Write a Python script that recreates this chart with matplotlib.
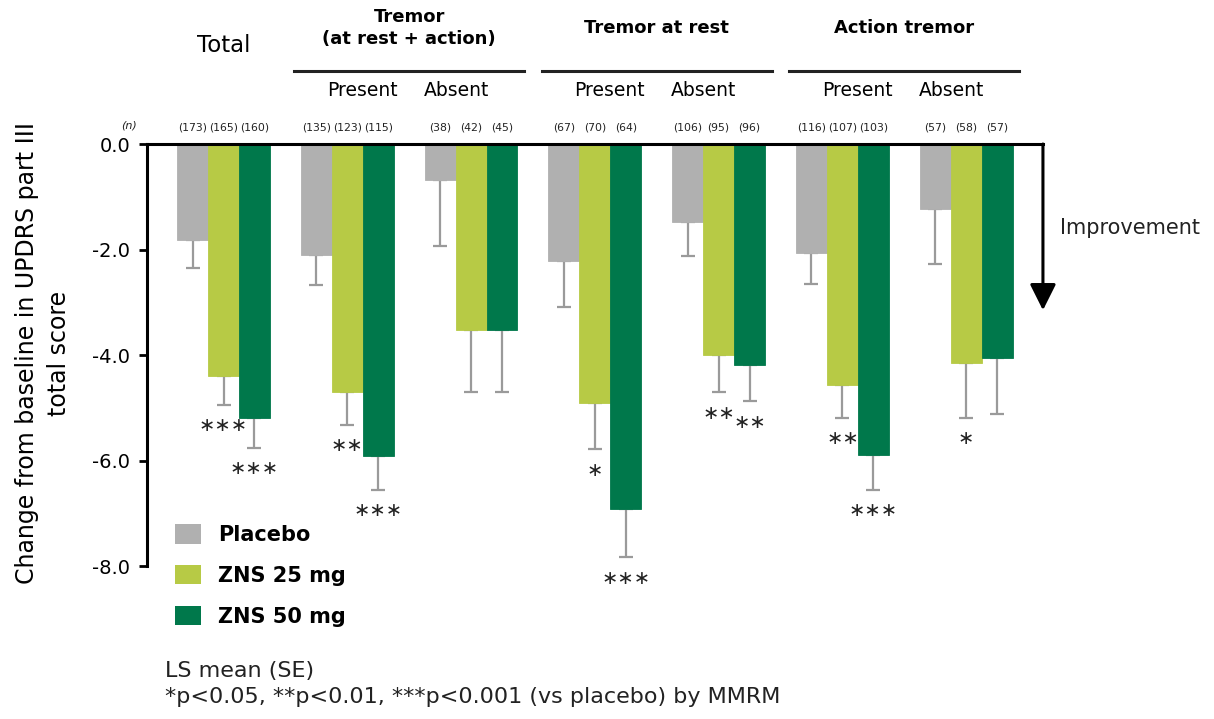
import numpy as np
import matplotlib as mpl
import matplotlib.pyplot as plt
from matplotlib.patches import Patch

mpl.use('Agg')
plt.rcParams['font.family'] = 'DejaVu Sans'
plt.rcParams['axes.unicode_minus'] = False

groups = ["Total", "Tremor Present", "Tremor Absent", "Rest Present",
          "Rest Absent", "Action Present", "Action Absent"]
series = ["Placebo", "ZNS 25 mg", "ZNS 50 mg"]
colors = ["#b0b0b0", "#b7ca45", "#00784b"]

# LS mean change and SE
placebo = [-1.82, -2.10, -0.69, -2.21, -1.47, -2.06, -1.23]
zns25 = [-4.39, -4.71, -3.52, -4.90, -4.00, -4.56, -4.16]
zns50 = [-5.19, -5.91, -3.52, -6.91, -4.18, -5.90, -4.06]
placebo_se = [0.53, 0.57, 1.24, 0.88, 0.65, 0.60, 1.04]
zns25_se = [0.55, 0.61, 1.18, 0.88, 0.70, 0.63, 1.03]
zns50_se = [0.57, 0.64, 1.18, 0.92, 0.70, 0.65, 1.06]

n_placebo = [173, 135, 38, 67, 106, 116, 57]
n_zns25 = [165, 123, 42, 70, 95, 107, 58]
n_zns50 = [160, 115, 45, 64, 96, 103, 57]

# number of asterisks vs placebo
sig_placebo = [0, 0, 0, 0, 0, 0, 0]
sig_zns25 = [3, 2, 0, 1, 2, 2, 1]
sig_zns50 = [3, 3, 0, 3, 2, 3, 0]

headers = ["Tremor\n(at rest + action)", "Tremor at rest", "Action tremor"]
sublabels = ["Present", "Absent"]

means = [placebo, zns25, zns50]
ses = [placebo_se, zns25_se, zns50_se]
ns = [n_placebo, n_zns25, n_zns50]
sigs = [sig_placebo, sig_zns25, sig_zns50]

fig = plt.figure(figsize=(12.14, 7.19), dpi=100)
ax = fig.add_axes([0.1211, 0.1467, 0.738, 0.653])

x = np.arange(len(groups))
w = 0.25
for i in range(3):
    xs = x + (i - 1) * w
    m = np.array(means[i])
    s = np.array(ses[i])
    ax.bar(xs, m, width=w, color=colors[i], edgecolor=colors[i], linewidth=0.6, zorder=2)
    ax.errorbar(xs, m, yerr=[s, np.zeros_like(s)], fmt='none', ecolor='#9a9a9a',
                elinewidth=1.6, capsize=5, capthick=1.6, zorder=1)
    for xx, mm, ss, st in zip(xs, m, s, sigs[i]):
        if st:
            ax.text(xx, mm - ss - 0.4, "\u2217" * st, ha='center', va='center',
                    fontsize=14, color='#222222', clip_on=False)
    for xx, nn in zip(xs, ns[i]):
        ax.text(xx, 0.32, "({})".format(nn), ha='center', va='center',
                fontsize=7.8, color='#222222', clip_on=False)

ax.text(-0.76, 0.36, "(n)", ha='center', va='center', fontsize=8, style='italic',
        color='#222222')

ax.set_xlim(-0.618, 6.62)
ax.set_ylim(-8.9, 0)
ax.set_yticks([0, -2, -4, -6, -8])
ax.set_yticklabels(["{:.1f}".format(v) for v in [0, -2, -4, -6, -8]])
ax.tick_params(axis='y', direction='out', length=6, width=2, labelsize=14, pad=6)
ax.set_xticks([])
for sp in ["right", "bottom"]:
    ax.spines[sp].set_visible(False)
ax.spines["left"].set_bounds(-8, 0)
ax.spines["left"].set_linewidth(2.2)
ax.spines["top"].set_linewidth(2.2)

ax.set_ylabel("Change from baseline in UPDRS part III\ntotal score", fontsize=17,
              linespacing=1.4)
ax.yaxis.set_label_coords(-0.085, 0.555)

# improvement arrow
ax.annotate("", xy=(6.62, -3.15), xytext=(6.62, 0), annotation_clip=False,
            arrowprops=dict(arrowstyle='-|>', lw=2.2, color='black', shrinkA=0,
                            shrinkB=0, mutation_scale=40))
ax.text(6.76, -1.59, "Improvement", ha='left', va='center', fontsize=15, color='#222222')

# headers
ax.text(0, 1.86, "Total", ha='center', va='center', fontsize=16.5, clip_on=False)
for k, h in enumerate(headers):
    g0 = 2 * k + 1
    c = g0 + 0.5
    ax.plot([g0 - 0.43, g0 + 1.43], [1.38, 1.38], color='#222222', lw=2.2, clip_on=False)
    ax.text(c, 2.2, h, ha='center', va='center', fontsize=13, fontweight='bold',
            linespacing=1.35, clip_on=False)
    ax.text(c - 0.38, 1.02, sublabels[0], ha='center', va='center', fontsize=13.5,
            clip_on=False)
    ax.text(c + 0.38, 1.02, sublabels[1], ha='center', va='center', fontsize=13.5,
            clip_on=False)

handles = [Patch(facecolor=colors[i], edgecolor='none', label=series[i]) for i in range(3)]
fig.legend(handles=handles, loc='upper left', bbox_to_anchor=(0.1288, 0.297),
           frameon=False, handlelength=1.25, handleheight=1.06, handletextpad=0.8,
           labelspacing=0.96, prop={'size': 15, 'weight': 'bold'})

fig.text(0.136, 0.067, "LS mean (SE)", ha='left', va='center', fontsize=16, color='#222222')
fig.text(0.136, 0.031, "*p<0.05, **p<0.01, ***p<0.001 (vs placebo) by MMRM", ha='left',
         va='center', fontsize=16, color='#222222')

fig.savefig("out.png", dpi=100)
